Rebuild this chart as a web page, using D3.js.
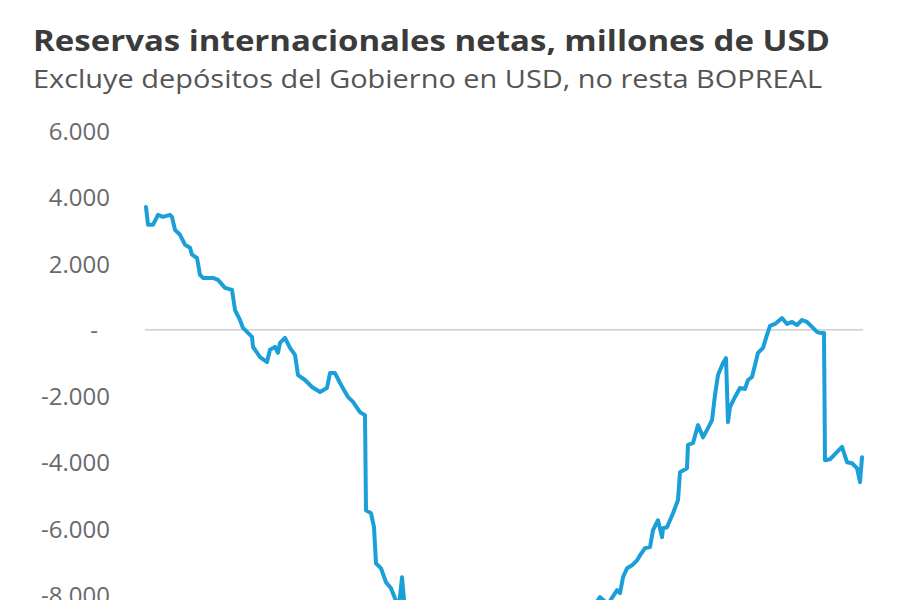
<!DOCTYPE html>
<html>
<head>
<meta charset="utf-8">
<script src="https://cdn.jsdelivr.net/npm/d3@7"></script>
<style>
  html, body { margin: 0; padding: 0; background: #fff; overflow: hidden; }
  svg { display: block; }
</style>
</head>
<body>
<svg id="chart" width="900" height="600"></svg>
<script>
// ---- Data ----
const title = "Reservas internacionales netas, millones de USD";
const subtitle = "Excluye depósitos del Gobierno en USD, no resta BOPREAL";

// Observation day offsets from the start of the series
const days = [
  0, 2, 7, 12, 17, 24, 26, 29, 34, 39, 44, 46, 51, 54, 57, 67, 72, 79, 86, 89,
  94, 97, 106, 107, 114, 121, 124, 129, 132, 134, 139, 144, 149, 152, 159, 166, 174, 181, 184, 189,
  194, 202, 207, 214, 219, 220, 225, 228, 230, 235, 240, 245, 251, 253, 256, 259, 269, 284, 299,
  314, 334, 354, 374, 394, 409, 424, 439, 449, 452, 454, 462, 471, 474, 477, 481, 486, 491, 494, 499,
  504, 507, 512, 516, 517, 521, 527, 532, 534, 541, 542, 547, 552, 557, 562, 566, 569, 572,
  577, 580, 582, 584, 589, 594, 599, 602, 606, 609, 612, 617, 621, 624, 629, 636, 641,
  646, 651, 656, 661, 666, 671, 674, 678, 679, 684, 696, 701, 706, 711, 714, 716
];

// Net international reserves, millions of USD
const reserves = [
  3710, 3170, 3170, 3470, 3410, 3470, 3410, 3020, 2870, 2570, 2480, 2270, 2170, 1660, 1570, 1570, 1510, 1270, 1210, 600,
  300, 60, -210, -510, -820, -970, -600, -510, -690, -390, -240, -540, -750, -1360, -1510, -1720, -1870, -1750, -1300, -1300,
  -1600, -2020, -2170, -2480, -2570, -5440, -5530, -5950, -7040, -7190, -7610, -7790, -8250, -8340, -7460, -8460, -8900, -9300, -9700,
  -10100, -10400, -10600, -10800, -10500, -10000, -9400, -8900, -8500, -8150, -8060, -8270, -7850, -7940, -7460, -7190, -7100, -6950, -6800, -6580,
  -6550, -6040, -5740, -6250, -5980, -5950, -5530, -5130, -4290, -4170, -3470, -3410, -2870, -3240, -2960, -2720, -1960, -1360,
  -1000, -850, -2780, -2330, -2020, -1750, -1780, -1510, -1420, -1060, -690, -540, -150, 120, 180, 360, 180,
  240, 150, 300, 240, 90, -60, -90, -90, -3930, -3900, -3530, -3990, -4020, -4170, -4590, -3840
];

const yTicks = [6000, 4000, 2000, 0, -2000, -4000, -6000, -8000, -10000, -12000];

// ---- Chart ----
const svg = d3.select("#chart");
const fontFamily = "'Open Sans', 'Noto Sans', sans-serif";

const x = d3.scaleLinear().domain([0, d3.max(days)]).range([146, 862]);
const y = d3.scaleLinear().domain([-12000, 6000]).range([727.8, 131]);

const locale = d3.formatLocale({ decimal: ",", thousands: ".", grouping: [3], currency: ["$", ""], minus: "-" });
const fmt = locale.format(",.0f");

// Title & subtitle
svg.append("text")
  .attr("x", 33).attr("y", 51)
  .attr("font-family", fontFamily).attr("font-weight", 700)
  .attr("font-size", 28.5).attr("fill", "#3b3b3b")
  .attr("textLength", 797).attr("lengthAdjust", "spacingAndGlyphs")
  .text(title);

svg.append("text")
  .attr("x", 33).attr("y", 88)
  .attr("font-family", fontFamily).attr("font-weight", 400)
  .attr("font-size", 26).attr("fill", "#555")
  .attr("textLength", 789).attr("lengthAdjust", "spacingAndGlyphs")
  .text(subtitle);

// Zero line
svg.append("line")
  .attr("x1", x(0) - 1).attr("x2", x(d3.max(days)) + 1)
  .attr("y1", y(0)).attr("y2", y(0))
  .attr("stroke", "#c4c4c4").attr("stroke-width", 1.2);

// Y axis
const yAxis = d3.axisLeft(y)
  .tickValues(yTicks)
  .tickSize(0)
  .tickPadding(0)
  .tickFormat(d => d === 0 ? "-" : fmt(d));

const gy = svg.append("g")
  .attr("transform", "translate(110,0)")
  .call(yAxis);
gy.select(".domain").remove();
gy.selectAll("text")
  .attr("font-family", fontFamily)
  .attr("font-size", 24)
  .attr("fill", "#6a6a6a")
  .attr("dy", "0.35em");
gy.selectAll(".tick").filter(d => d === 0).select("text").attr("x", -12);

// Line
const line = d3.line()
  .x((d, i) => x(days[i]))
  .y(d => y(d))
  .curve(d3.curveLinear);

svg.append("path")
  .datum(reserves)
  .attr("d", line)
  .attr("fill", "none")
  .attr("stroke", "#1a9fd8")
  .attr("stroke-width", 4)
  .attr("stroke-linejoin", "round")
  .attr("stroke-linecap", "round");
</script>
</body>
</html>
